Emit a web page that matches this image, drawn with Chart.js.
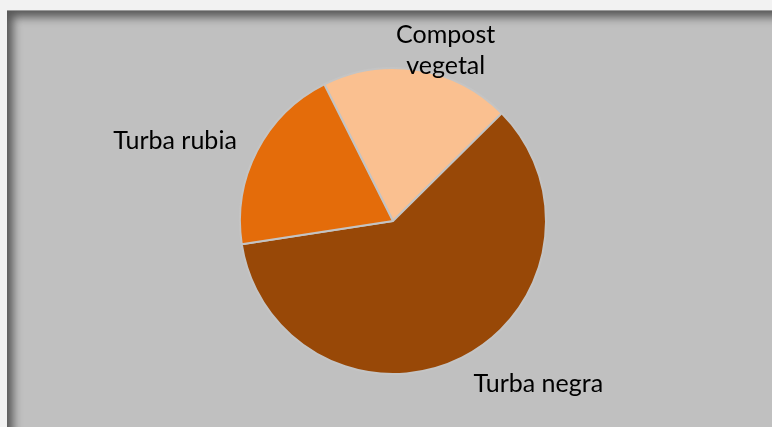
<!DOCTYPE html>
<html>
<head>
<meta charset="utf-8">
<script src="https://cdn.jsdelivr.net/npm/chart.js@4/dist/chart.umd.min.js"></script>
<style>
  html, body { margin: 0; padding: 0; background: #f2f2f2; }
  body { width: 772px; height: 427px; position: relative; overflow: hidden; }
  #frame {
    position: absolute; left: 7px; top: 10px; width: 765px; height: 417px;
    background: #c0c0c0;
    border-top: 1px solid #9a9a9a;
    box-shadow: inset 9px 9px 10px -3px rgba(0,0,0,0.55);
  }
  #wrap { position: absolute; left: 0; top: 0; width: 772px; height: 427px; }
</style>
</head>
<body>
<div id="frame"></div>
<div id="wrap"><canvas id="pie"></canvas></div>
<script>
// sustrato data
const categories = ["Compost vegetal", "Turba negra", "Turba rubia"];
const values = [20, 60, 20];
const colors = ["#fac090", "#984807", "#e46c0a"];

// label lines + nudges so text sits like the original (best fit)
const labelLines = [["Compost", "vegetal"], ["Turba negra"], ["Turba rubia"]];

const outsideLabels = {
  id: "outsideLabels",
  afterDatasetsDraw(chart, args, opts) {
    const ctx = chart.ctx;
    const arcs = chart.getDatasetMeta(0).data;
    ctx.save();
    ctx.font = opts.font;
    ctx.fillStyle = "#000";
    ctx.textAlign = "center";
    ctx.textBaseline = "middle";
    arcs.forEach((arc, i) => {
      const p = arc.getProps(["x", "y", "startAngle", "endAngle", "outerRadius"], true);
      const mid = (p.startAngle + p.endAngle) / 2;
      const r = p.outerRadius * opts.factor[i];
      const cx = p.x + Math.cos(mid) * r + opts.nudge[i][0];
      const cy = p.y + Math.sin(mid) * r + opts.nudge[i][1];
      const lines = labelLines[i];
      const top = cy - (lines.length - 1) * opts.lineHeight / 2;
      lines.forEach((t, j) => ctx.fillText(t, cx, top + j * opts.lineHeight));
    });
    ctx.restore();
  }
};

new Chart(document.getElementById("pie"), {
  type: "pie",
  data: {
    labels: categories,
    datasets: [{
      data: values,
      backgroundColor: colors,
      borderColor: "#c4c4c4",
      borderWidth: 2
    }]
  },
  options: {
    responsive: true,
    maintainAspectRatio: false,
    animation: false,
    rotation: -26.7,
    layout: { padding: { top: 67, bottom: 52, left: 14, right: 0 } },
    plugins: {
      legend: { display: false },
      tooltip: { enabled: false },
      outsideLabels: {
        font: "25px Lato",
        lineHeight: 31,
        factor: [1.12, 1.43, 1.5],
        nudge: [[25, -1], [47, -33], [-14, 25]]
      }
    }
  },
  plugins: [outsideLabels]
});
</script>
</body>
</html>
